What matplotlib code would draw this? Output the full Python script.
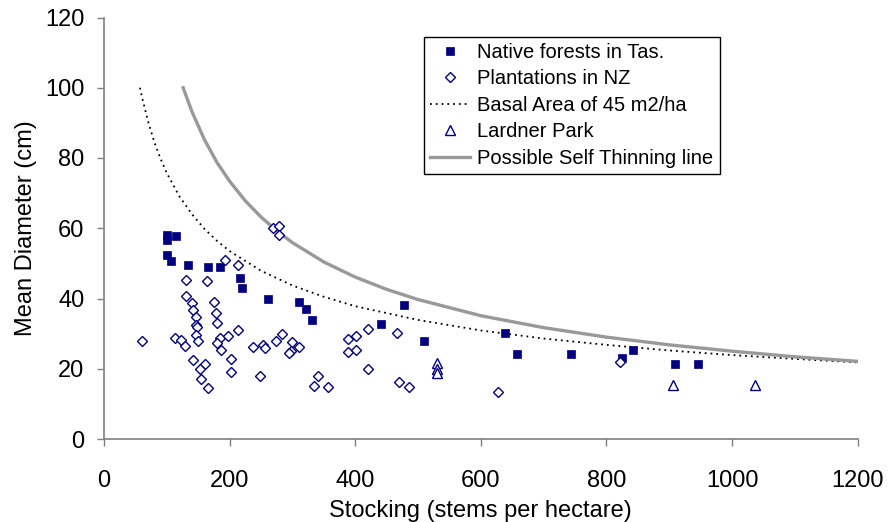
import numpy as np
import matplotlib
matplotlib.use("Agg")
from matplotlib import pyplot as plt

plt.rcParams['font.family'] = ['Liberation Sans', 'DejaVu Sans']

#---DATOS LEIDOS DE LA FIGURA
# bosques nativos en Tasmania
tas_x = [100, 100, 115, 100, 107, 133, 166, 185, 217, 220, 261, 310, 321, 331,
         441, 478, 510, 638, 657, 744, 824, 843, 909, 945]
tas_y = [58.2, 56.7, 57.7, 52.4, 50.7, 49.6, 48.9, 48.9, 45.8, 43.0, 39.8, 38.9,
         37.0, 33.8, 32.7, 38.2, 27.9, 30.1, 24.2, 24.2, 23.0, 25.2, 21.4, 21.4]

# plantaciones en NZ
nz_x = [269, 279, 279, 193, 214, 130, 164, 130, 140, 175, 142, 178, 147, 180,
        146, 148, 213, 146, 60, 113, 122, 129, 150, 185, 197, 180, 187, 237,
        253, 256, 274, 284, 300, 310, 298, 295, 142, 161, 153, 202, 202, 154,
        165, 249, 389, 402, 420, 466, 388, 402, 421, 340, 335, 356, 469, 486,
        627, 822]
nz_y = [60.1, 60.7, 58.2, 51.0, 49.6, 45.3, 45.1, 40.6, 38.7, 39.0, 36.8, 35.9,
        34.6, 33.1, 32.5, 32.0, 31.1, 29.7, 27.8, 28.7, 28.2, 26.4, 27.9, 28.8,
        29.2, 27.4, 25.4, 26.1, 26.8, 25.8, 28.0, 29.8, 27.5, 26.1, 25.1, 24.6,
        22.5, 21.3, 19.9, 22.9, 19.0, 17.0, 14.5, 17.8, 28.4, 29.4, 31.3, 30.3,
        24.7, 25.2, 20.0, 17.8, 15.1, 14.9, 16.3, 14.9, 13.5, 21.8]

# Lardner Park
lp_x = [530, 530, 530, 906, 1036]
lp_y = [21.6, 19.9, 18.8, 15.4, 15.4]

# area basal de 45 m2/ha
ba_x = [57.3, 60, 70, 80, 90, 100, 120, 140, 160, 180, 200, 250, 300, 350, 400,
        500, 600, 700, 800, 900, 1000, 1100, 1200]
ba_y = [100.0, 97.7, 90.5, 84.6, 79.8, 75.7, 69.1, 64.0, 59.8, 56.4, 53.5, 47.9,
        43.7, 40.5, 37.8, 33.9, 30.9, 28.6, 26.8, 25.2, 23.9, 22.8, 21.8]

# linea de autoraleo posible
st_x = [126, 140, 160, 180, 200, 225, 250, 275, 300, 350, 400, 450, 500, 600,
        700, 800, 900, 1000, 1100, 1200]
st_y = [100.0, 93.2, 85.2, 78.7, 73.4, 67.8, 63.2, 59.3, 55.9, 50.4, 46.1, 42.6,
        39.7, 35.1, 31.7, 29.0, 26.8, 25.0, 23.4, 22.1]

navy = '#000080'

fig = plt.figure(figsize=(8.88, 5.22), dpi=100)
ax = fig.add_axes([104/888, 1-439/522, (857.7-104)/888, (439-17.5)/522])

ax.plot(tas_x, tas_y, linestyle='none', marker='s', markersize=5.3,
        color=navy, markeredgewidth=0.5, label='Native forests in Tas.', zorder=3)
ax.plot(nz_x, nz_y, linestyle='none', marker='D', markersize=4.6,
        markerfacecolor='white', markeredgecolor=navy, markeredgewidth=1.0,
        label='Plantations in NZ', zorder=3)
ax.plot(ba_x, ba_y, color='black', linewidth=1.3, linestyle=(0, (1, 2.2)),
        label='Basal Area of 45 m2/ha', zorder=2)
ax.plot(lp_x, lp_y, linestyle='none', marker='^', markersize=6.5,
        markerfacecolor='white', markeredgecolor=navy, markeredgewidth=1.0,
        label='Lardner Park', zorder=3)
ax.plot(st_x, st_y, color='#999999', linewidth=2.4,
        label='Possible Self Thinning line', zorder=2)

ax.set_xlim(0, 1200)
ax.set_ylim(0, 120)
ax.set_xticks(np.arange(0, 1201, 200))
ax.set_yticks(np.arange(0, 121, 20))

for lado in ['top', 'right']:
    ax.spines[lado].set_visible(False)
for lado in ['left', 'bottom']:
    ax.spines[lado].set_color('#808080')
    ax.spines[lado].set_linewidth(1.2)
ax.tick_params(direction='out', length=5, width=1.0, color='#808080',
               labelsize=17)
ax.tick_params(axis='x', pad=17.5)
ax.tick_params(axis='y', pad=9)

ax.set_xlabel('Stocking (stems per hectare)', fontsize=17, labelpad=5.5)
ax.set_ylabel('Mean Diameter (cm)', fontsize=17, labelpad=6)

leg = ax.legend(loc='upper left', bbox_to_anchor=(424/888, 1-37/522),
                bbox_transform=fig.transFigure, borderaxespad=0,
                fontsize=14.5, numpoints=1, handlelength=2.0, handletextpad=0.35,
                labelspacing=0.37, borderpad=0.3, fancybox=False, framealpha=1)
leg.get_frame().set_edgecolor('black')
leg.get_frame().set_linewidth(1.0)

plt.savefig('out.png', dpi=100)
